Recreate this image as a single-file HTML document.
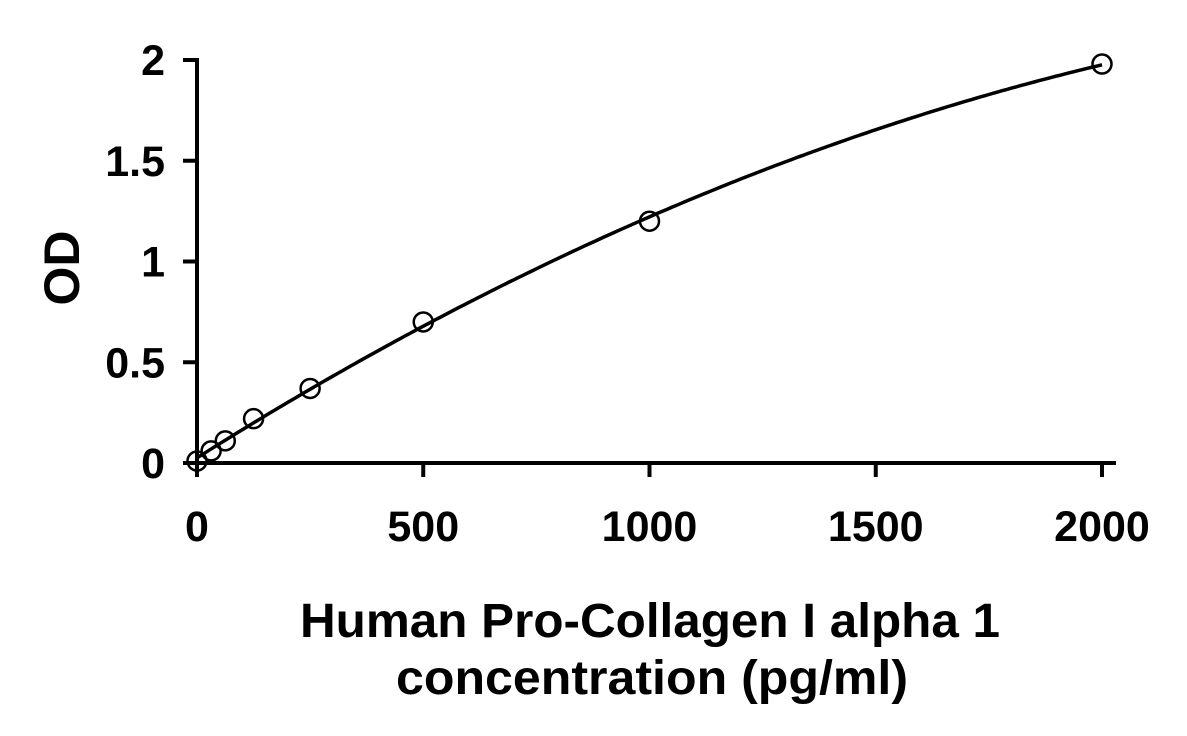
<!DOCTYPE html>
<html><head><meta charset="utf-8"><style>
html,body{margin:0;padding:0;background:#fff;}
svg{display:block;font-family:"Liberation Sans",Arial,sans-serif;font-weight:bold;}
</style></head><body>
<svg id="chart" width="1187" height="736" viewBox="0 0 1187 736">
<g id="axes"></g>
<g id="marks"></g>
<text x="650" y="637" font-size="48" text-anchor="middle" textLength="700" lengthAdjust="spacingAndGlyphs">Human Pro-Collagen I alpha 1</text>
<text x="652" y="694" font-size="48" text-anchor="middle" textLength="512" lengthAdjust="spacingAndGlyphs">concentration (pg/ml)</text>
<text transform="translate(79,268) rotate(-90)" font-size="50" text-anchor="middle">OD</text>
</svg>
<script>
const conc = [0, 31.25, 62.5, 125, 250, 500, 1000, 2000];
const od = [0.01, 0.06, 0.11, 0.22, 0.37, 0.70, 1.20, 1.98];
const xTicks = [0, 500, 1000, 1500, 2000];
const yTicks = [0, 0.5, 1, 1.5, 2];
const yTickLabels = ["0", "0.5", "1", "1.5", "2"];

const X0=197, X1=1102, Y0=463, Y1=60;
const sx = v => X0 + (v - 0) / 2000 * (X1 - X0);
const sy = v => Y0 - v / 2 * (Y0 - Y1);
const NS = "http://www.w3.org/2000/svg";
function mk(tag, attrs, parent){const e=document.createElementNS(NS,tag);for(const k in attrs)e.setAttribute(k,attrs[k]);parent.appendChild(e);return e;}
const axes=document.getElementById('axes'), marks=document.getElementById('marks');

let el = mk('line',{x1:X0,y1:Y1-2,x2:X0,y2:Y0+2,stroke:'#000','stroke-width':4},axes);


el = mk('line',{x1:X0-2,y1:Y0,x2:X1+14,y2:Y0,stroke:'#000','stroke-width':4},axes);



yTicks.forEach((t,i)=>{
  const y=sy(t);
  const l=mk('line',{x1:X0-14,y1:y,x2:X0,y2:y,stroke:'#000','stroke-width':4},axes);
  
  
  const tx=mk('text',{x:X0-32,y:y+15,'font-size':43,'text-anchor':'end'},axes);
  tx.textContent=yTickLabels[i];
  
  
});
xTicks.forEach(t=>{
  const x=sx(t);
  const l=mk('line',{x1:x,y1:Y0,x2:x,y2:Y0+14,stroke:'#000','stroke-width':4},axes);
  
  
  const tx=mk('text',{x:x,y:541,'font-size':43,'text-anchor':'middle'},axes);
  tx.textContent=String(t);
  
  
});

function fit(xs,ys){
  let S=[0,0,0,0,0],T=[0,0,0];
  xs.forEach((x,i)=>{let p=1;for(let k=0;k<5;k++){S[k]+=p;if(k<3)T[k]+=p*ys[i];p*=x;}});
  const A=[[S[0],S[1],S[2],T[0]],[S[1],S[2],S[3],T[1]],[S[2],S[3],S[4],T[2]]];
  for(let i=0;i<3;i++){for(let j=i+1;j<3;j++){const f=A[j][i]/A[i][i];for(let k=i;k<4;k++)A[j][k]-=f*A[i][k];}}
  const c=[0,0,0];
  for(let i=2;i>=0;i--){let s=A[i][3];for(let k=i+1;k<3;k++)s-=A[i][k]*c[k];c[i]=s/A[i][i];}
  return c;
}
const c=fit(conc,od);
let d='';
const xmax=conc[conc.length-1];
for(let i=0;i<=200;i++){const x=xmax*i/200;const y=c[0]+c[1]*x+c[2]*x*x;d+=(i?'L':'M')+sx(x).toFixed(1)+','+sy(y).toFixed(1);}
el=mk('path',{d:d,fill:'none',stroke:'#000','stroke-width':3.5},marks);



conc.forEach((x,i)=>{
  const p=mk('circle',{cx:sx(x),cy:sy(od[i]),r:9.5,fill:'none',stroke:'#000','stroke-width':2.5},marks);
  
  
});
</script>
</body></html>
